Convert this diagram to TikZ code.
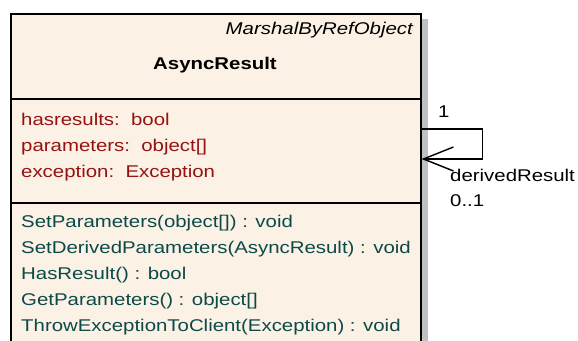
\documentclass[tikz,border=0pt]{standalone}
\usepackage{fontspec}
\setmainfont{Liberation Sans}[FakeStretch=1.2]
\usepackage{tikz}
\usetikzlibrary{positioning,arrows.meta}
\definecolor{classfill}{RGB}{251,241,228}
\definecolor{attrred}{RGB}{150,18,18}
\definecolor{opteal}{RGB}{12,74,74}
\definecolor{shadowgray}{RGB}{192,192,192}

\begin{document}
\begin{tikzpicture}[
x=1pt, y=1pt,
font=\fontsize{17}{20}\selectfont,
classbox/.style={draw=black, line width=1.6pt, fill=classfill, minimum width=410pt, minimum height=340pt, inner sep=0pt, anchor=north west},
attrnode/.style={anchor=north west, inner sep=0pt, text height=13pt, text depth=4pt, text=attrred},
opnode/.style={anchor=north west, inner sep=0pt, text height=13pt, text depth=4pt, text=opteal},
rolenode/.style={anchor=base west, inner sep=0pt},
assoc/.style={draw=black, line width=1.4pt, -{Straight Barb[length=30pt, width=24pt, line width=1.4pt]}}
]
    \useasboundingbox (0,0) rectangle (578,340);
    \clip (0,0) rectangle (578,340);

    %Class
    \fill[shadowgray] (421,321) rectangle (428,-10);
    \node[classbox] (cls) at (10,327) {};
    \draw[line width=1.4pt] (cls.west |- 0,241) -- (cls.east |- 0,241);
    \draw[line width=1.4pt] (cls.west |- 0,137) -- (cls.east |- 0,137);

    \node[anchor=base east, inner sep=0pt, font=\fontsize{17}{20}\selectfont\itshape]
        (stereo) at (413,305) {MarshalByRefObject};
    \node[anchor=base, inner sep=0pt, font=\fontsize{17}{20}\selectfont\bfseries]
        (name) at (215,270) {AsyncResult};

    %Attributes
    \node[attrnode] (a1) at (21,228) {hasresults:\ \ bool};
    \node[attrnode] (a2) [below=8.6pt of a1.south west, anchor=north west] {parameters:\ \ object[]};
    \node[attrnode] (a3) [below=8.6pt of a2.south west, anchor=north west] {exception:\ \ Exception};

    %Operations
    \node[opnode] (o1) at (21,126) {SetParameters(object[]) : void};
    \node[opnode] (o2) [below=8.6pt of o1.south west, anchor=north west] {SetDerivedParameters(AsyncResult) : void};
    \node[opnode] (o3) [below=8.6pt of o2.south west, anchor=north west] {HasResult() : bool};
    \node[opnode] (o4) [below=8.6pt of o3.south west, anchor=north west] {GetParameters() : object[]};
    \node[opnode] (o5) [below=8.6pt of o4.south west, anchor=north west] {ThrowExceptionToClient(Exception) : void};

    %Self association
    \coordinate (selfout) at (cls.east |- 0,211);
    \coordinate (selfin) at (cls.east |- 0,181);
    \draw[assoc] (selfout) -- ++(61,0) |- (selfin);

    \node[rolenode] (mult1) at (438,222) {1};
    \node[rolenode] (role) at (450,158) {derivedResult};
    \node[rolenode] (mult2) at (450,133) {0..1};
\end{tikzpicture}
\end{document}
